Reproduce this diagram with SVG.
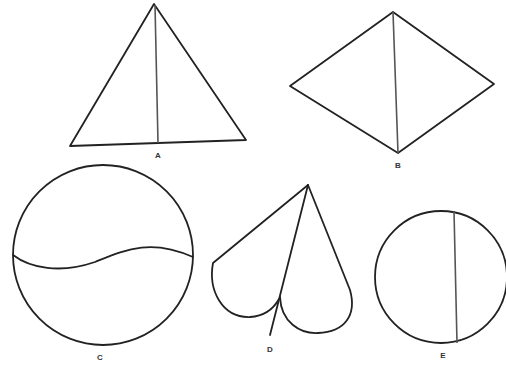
<svg xmlns="http://www.w3.org/2000/svg" width="506" height="369" viewBox="0 0 506 369">
<style>
.s{fill:none;stroke:#222;stroke-width:1.8;stroke-linejoin:round;stroke-linecap:round}
.m{fill:none;stroke:#555;stroke-width:1.6}
.l{font-family:"Liberation Sans",Arial,sans-serif;font-size:8px;font-weight:bold;fill:#333;text-anchor:middle}
</style>
<rect width="506" height="369" fill="#fff"/>
<g id="A">
<polygon class="s" points="154,4 70,146 246,140"/>
<line class="m" x1="155" y1="5" x2="158" y2="143"/>
<text class="l" x="158" y="158">A</text>
</g>
<g id="B">
<polygon class="s" points="393,12 494,84 398,153 290,86"/>
<line class="m" x1="393" y1="12" x2="398" y2="153"/>
<text class="l" x="398" y="168">B</text>
</g>
<g id="C">
<circle class="s" cx="103" cy="255" r="90"/>
<path class="s" d="M13,255 C30,268 60,274 95,262 C125,250 150,238 193,257"/>
<text class="l" x="100" y="360">C</text>
</g>
<g id="D">
<path class="s" d="M308,185 L213,263 C208,290 222,318 250,317 C265,316 274,308 279,299"/>
<path class="s" d="M280,297 C281,322 300,334 318,333 C345,332 357,315 350,290 L308,185"/>
<line class="s" x1="308" y1="185" x2="270" y2="335"/>
<text class="l" x="270" y="352">D</text>
</g>
<g id="E">
<circle class="s" cx="441" cy="277" r="66"/>
<line class="m" x1="454" y1="211" x2="457" y2="343"/>
<text class="l" x="443" y="358">E</text>
</g>
</svg>
